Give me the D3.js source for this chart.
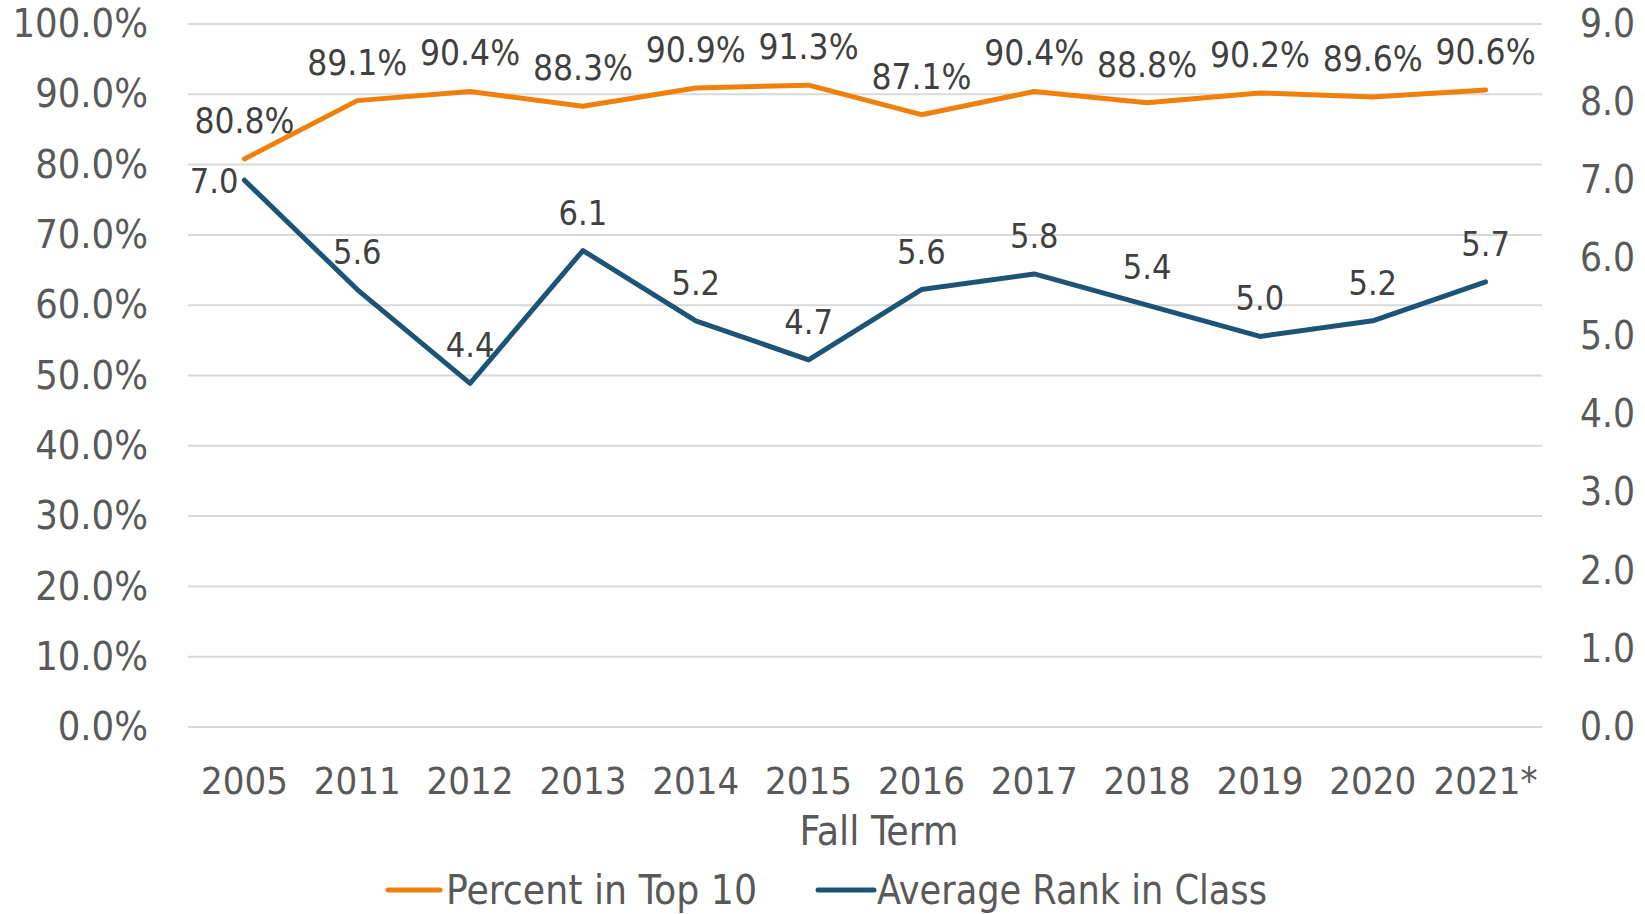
<!DOCTYPE html>
<html><head><meta charset="utf-8">
<script src="https://cdn.jsdelivr.net/npm/d3@7"></script>
<style>
html,body{margin:0;padding:0;background:#fff;}
text{font-family:"DejaVu Sans Condensed","DejaVu Sans",sans-serif;font-stretch:condensed;}
</style></head>
<body><svg id="chart" width="1645" height="914"></svg>
<script>
const years = ["2005","2011","2012","2013","2014","2015","2016","2017","2018","2019","2020","2021*"];
const percentTop10 = [80.8,89.1,90.4,88.3,90.9,91.3,87.1,90.4,88.8,90.2,89.6,90.6];
const avgRank = [7.0,5.6,4.4,6.1,5.2,4.7,5.6,5.8,5.4,5.0,5.2,5.7];
const leftTicks = [0,10,20,30,40,50,60,70,80,90,100];
const rightTicks = [0,1,2,3,4,5,6,7,8,9];
const seriesNames = ["Percent in Top 10","Average Rank in Class"];
const colors = ["#F0800C","#1C5478"];

const svg = d3.select("#chart");
const L = 188, R = 1542, T = 24, B = 727;
const x = d3.scaleBand().domain(years).range([L,R]);
const xc = d => x(d) + x.bandwidth()/2;
const yL = d3.scaleLinear().domain([0,100]).range([B,T]);
const yR = d3.scaleLinear().domain([0,9]).range([B,T]);

// gridlines
svg.append("g").selectAll("line").data(leftTicks).join("line")
  .attr("x1",L).attr("x2",R).attr("y1",d=>yL(d)).attr("y2",d=>yL(d))
  .attr("stroke","#d9d9d9").attr("stroke-width",2);

// left axis
const gl = svg.append("g").attr("transform",`translate(${L-40},0)`)
  .call(d3.axisLeft(yL).tickValues(leftTicks).tickFormat(d=>d.toFixed(1)+"%").tickSize(0).tickPadding(0));
gl.select(".domain").remove();
gl.selectAll("text").attr("font-size",39.5).attr("fill","#595959").attr("font-family",null);

// right axis
const gr = svg.append("g").attr("transform",`translate(1580,0)`)
  .call(d3.axisRight(yR).tickValues(rightTicks).tickFormat(d=>d.toFixed(1)).tickSize(0).tickPadding(0));
gr.select(".domain").remove();
gr.selectAll("text").attr("font-size",38.5).attr("fill","#595959").attr("font-family",null);

// x axis
const gx = svg.append("g").attr("transform",`translate(0,${B+40})`)
  .call(d3.axisBottom(x).tickSize(0).tickPadding(0));
gx.select(".domain").remove();
gx.selectAll("text").attr("font-size",38).attr("fill","#595959").attr("font-family",null)
  .attr("dy","0.71em");

svg.append("text").attr("x",879).attr("y",845).attr("text-anchor","middle")
  .attr("font-size",40.5).attr("fill","#595959").text("Fall Term");

// lines
const linePct = d3.line().x((d,i)=>xc(years[i])).y(d=>yL(d));
const lineRank = d3.line().x((d,i)=>xc(years[i])).y(d=>yR(d));
svg.append("path").attr("d",linePct(percentTop10)).attr("fill","none")
  .attr("stroke",colors[0]).attr("stroke-width",5).attr("stroke-linejoin","round").attr("stroke-linecap","round");
svg.append("path").attr("d",lineRank(avgRank)).attr("fill","none")
  .attr("stroke",colors[1]).attr("stroke-width",5).attr("stroke-linejoin","round").attr("stroke-linecap","round");

// data labels
svg.append("g").selectAll("text").data(percentTop10).join("text")
  .attr("x",(d,i)=>xc(years[i])).attr("y",d=>yL(d)-26).attr("text-anchor","middle")
  .attr("font-size",35).attr("fill","#404040").text(d=>d.toFixed(1)+"%");
svg.append("g").selectAll("text").data(avgRank).join("text")
  .attr("x",(d,i)=> i===0 ? xc(years[i])-6 : xc(years[i]))
  .attr("y",(d,i)=> i===0 ? yR(d)+13 : yR(d)-26)
  .attr("text-anchor",(d,i)=> i===0 ? "end" : "middle")
  .attr("font-size",34).attr("fill","#404040").text(d=>d.toFixed(1));

// legend
const legendItems = [{x1:388,x2:440,tx:446,w:311},{x1:818,x2:874,tx:877,w:390}];
const lg = svg.append("g").selectAll("g").data(seriesNames).join("g");
lg.append("line").attr("x1",(d,i)=>legendItems[i].x1).attr("x2",(d,i)=>legendItems[i].x2)
  .attr("y1",890).attr("y2",890).attr("stroke",(d,i)=>colors[i]).attr("stroke-width",5).attr("stroke-linecap","round");
lg.append("text").attr("x",(d,i)=>legendItems[i].tx).attr("y",904)
  .attr("font-size",40.5).attr("fill","#595959")
  .attr("textLength",(d,i)=>legendItems[i].w).attr("lengthAdjust","spacingAndGlyphs").text(d=>d);
</script></body></html>
